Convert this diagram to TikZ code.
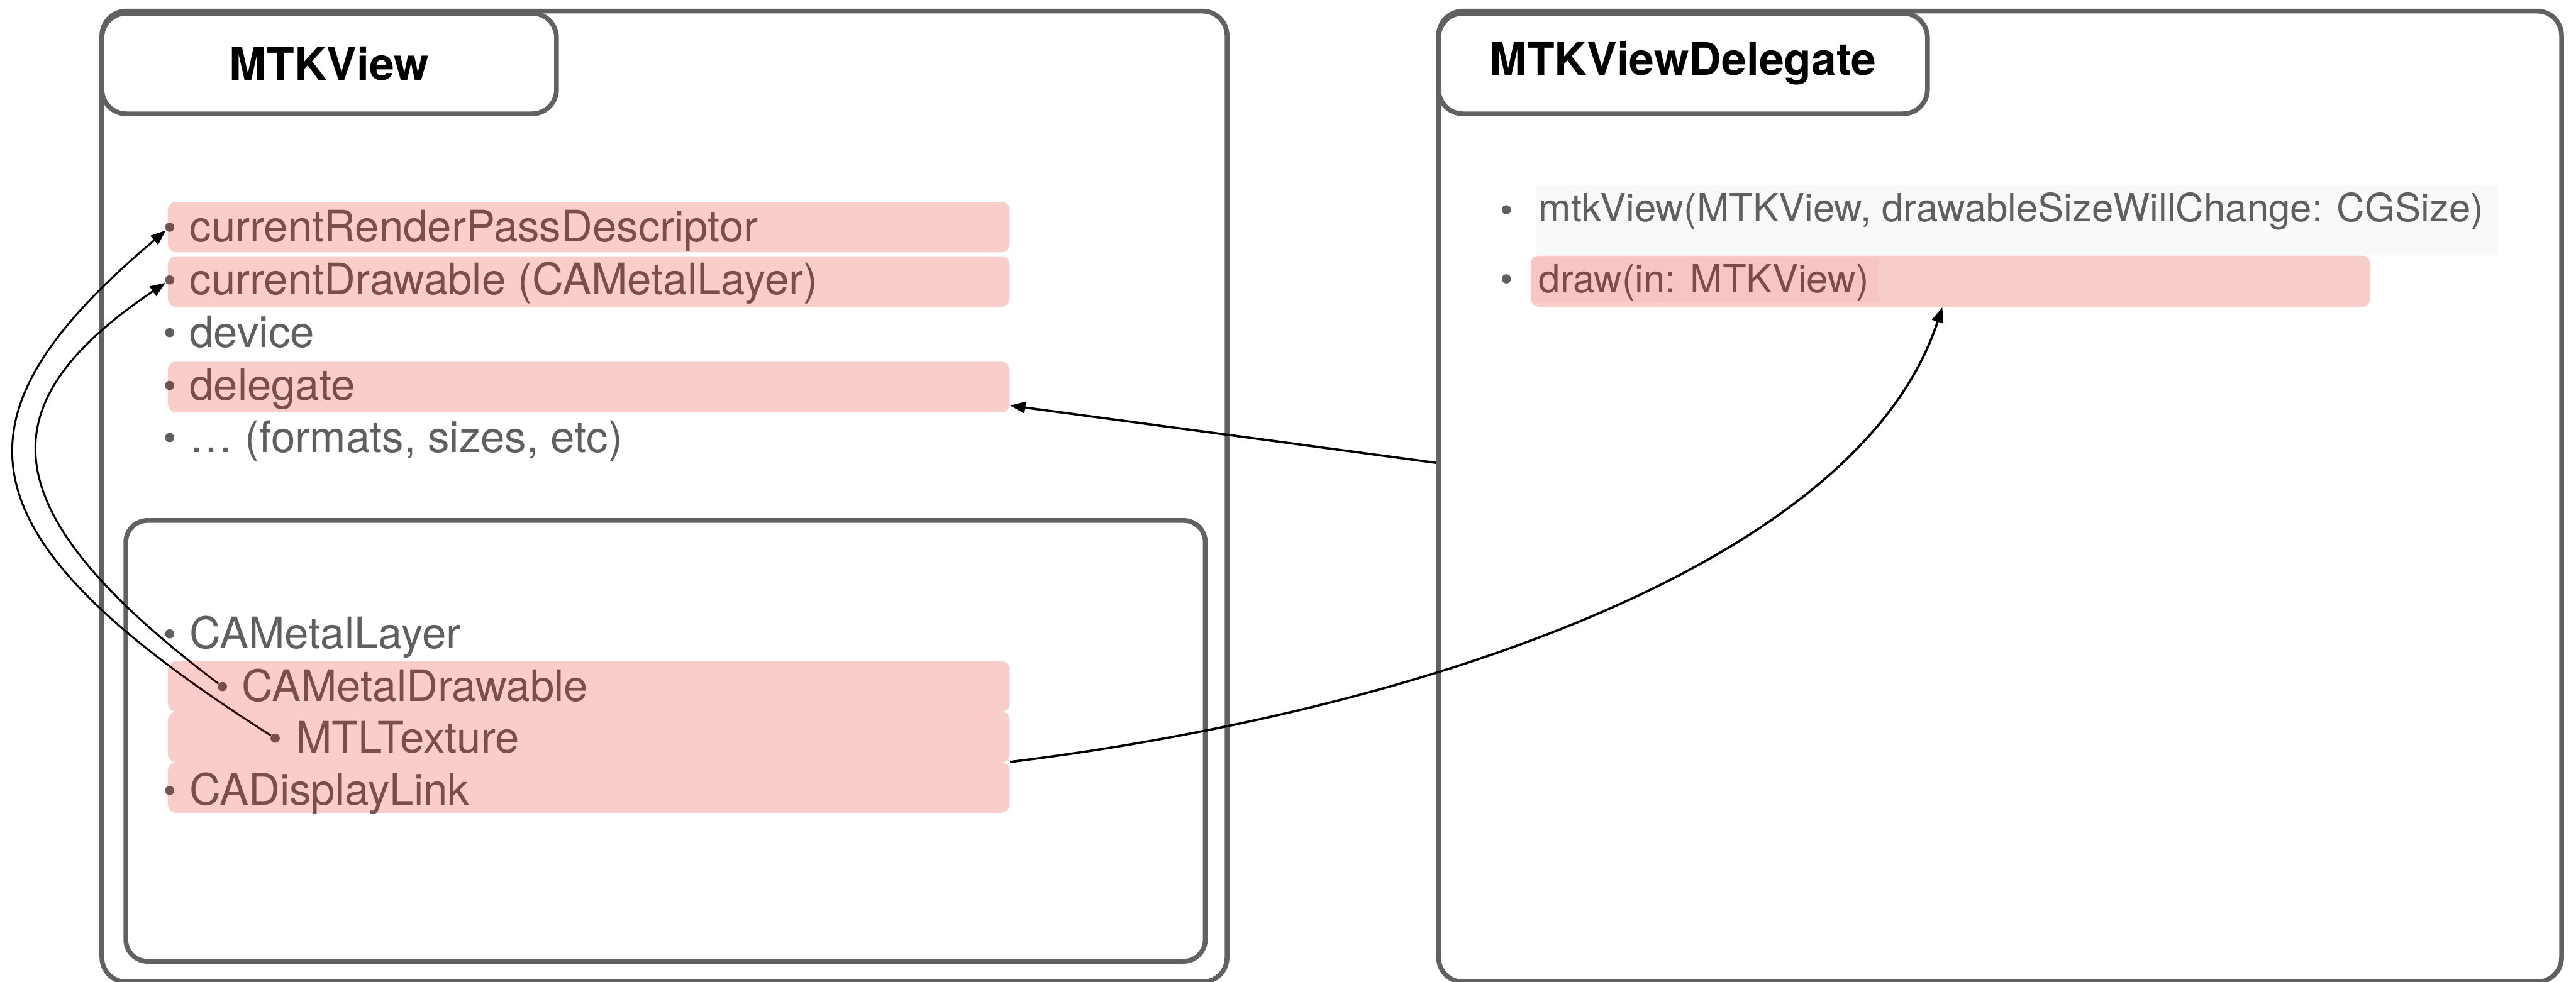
\documentclass[tikz,border=0pt]{standalone}
\usepackage{fontspec}
\setmainfont{TeX Gyre Heros}
\usepackage{xcolor}
\definecolor{boxGray}{HTML}{616161}
\definecolor{txtGray}{HTML}{5F5F5F}
\definecolor{hlRed}{RGB}{227,20,5}
\definecolor{bgGray}{HTML}{F9F9F9}
\usepackage{tikz}
\usetikzlibrary{arrows.meta}
\pgfdeclarelayer{front}
\pgfsetlayers{main,front}

\begin{document}
\begin{tikzpicture}[>={Triangle[length=8pt,width=6pt]},
  panel/.style={draw=boxGray, line width=2.5pt, rounded corners=0.45cm, inner sep=0, anchor=north west},
  title/.style={panel, fill=white, font=\fontsize{23.5}{28}\selectfont\bfseries},
  item/.style={anchor=base west, inner sep=0, text=txtGray, font=\fontsize{22.7}{27}\selectfont},
  ditem/.style={item, font=\fontsize{20.3}{24}\selectfont},
  dot/.style={circle, fill=txtGray, inner sep=0, minimum size=0.17cm},
  hl/.style={fill=hlRed, fill opacity=0.21, rounded corners=0.15cm, inner sep=0, minimum width=15.48cm, minimum height=0.93cm, anchor=south west},
  link/.style={->, line width=1.2pt}]
  \useasboundingbox (0,0) rectangle (47.37,18.06);
  % ---------- MTKView ----------
  \node[panel, minimum width=20.69cm, minimum height=17.86cm] (vpanel) at (1.83,17.90) {};
  \node[title, minimum width=8.36cm, minimum height=1.85cm] (vtitle) at (1.83,17.86) {MTKView};
  \node[item] (rpd) at (3.48,13.61) {currentRenderPassDescriptor};
  \node[dot] (rpd-b) at (3.12,13.88) {};
  \node[item] (cdr) at (3.48,12.64) {currentDrawable (CAMetalLayer)};
  \node[dot] (cdr-b) at (3.12,12.91) {};
  \node[item] (dev) at (3.48,11.67) {device};
  \node[dot] (dev-b) at (3.12,11.94) {};
  \node[item] (dlg) at (3.48,10.70) {delegate};
  \node[dot] (dlg-b) at (3.12,10.97) {};
  \node[item] (fmt) at (3.48,9.74) {… (formats, sizes, etc)};
  \node[dot] (fmt-b) at (3.12,10.01) {};
  % layer and display link
  \node[panel, minimum width=19.85cm, minimum height=8.11cm, rounded corners=0.4cm] (lbox) at (2.27,8.53) {};
  \node[item] (mlyr) at (3.48,6.13) {CAMetalLayer};
  \node[dot] (mlyr-b) at (3.12,6.40) {};
  \node[item] (mdrw) at (4.44,5.16) {CAMetalDrawable};
  \node[dot] (mdrw-b) at (4.09,5.43) {};
  \node[item] (mtex) at (5.43,4.21) {MTLTexture};
  \node[dot] (mtex-b) at (5.06,4.48) {};
  \node[item] (dlink) at (3.48,3.25) {CADisplayLink};
  \node[dot] (dlink-b) at (3.12,3.52) {};
  % ---------- MTKViewDelegate ----------
  \node[panel, minimum width=20.65cm, minimum height=17.86cm] (dpanel) at (26.41,17.90) {};
  \node[title, minimum width=8.99cm, minimum height=1.85cm] (dtitle) at (26.41,17.86) {MTKViewDelegate};
  \node[fill=bgGray, inner sep=0, minimum width=17.68cm, minimum height=1.28cm, anchor=north west] (mtkv-bg) at (28.25,14.65) {};
  \node[ditem] (mtkv) at (28.29,13.98) {mtkView(MTKView, drawableSizeWillChange: CGSize)};
  \node[dot] (mtkv-b) at (27.70,14.20) {};
  \node[ditem] (drw) at (28.29,12.68) {draw(in: MTKView)};
  \node[dot] (drw-b) at (27.70,12.93) {};
  % ---------- highlights, laid over text and links ----------
  \begin{pgfonlayer}{front}
    \node[hl] (rpd-hl) at (3.08,13.41) {};
    \node[hl] (cdr-hl) at (3.08,12.41) {};
    \node[hl] (dlg-hl) at (3.08,10.47) {};
    \node[hl] (mdrw-hl) at (3.08,4.96) {};
    \node[hl] (mtex-hl) at (3.08,4.03) {};
    \node[hl] (dlink-hl) at (3.08,3.10) {};
    \node[hl, minimum width=15.44cm, minimum height=0.94cm] (drw-hl) at (28.14,12.41) {};
    \node[fill=hlRed, fill opacity=0.04, inner sep=0, minimum width=6.41cm, minimum height=0.83cm, anchor=north west] (drw-tx) at (28.14,13.35) {};
  \end{pgfonlayer}
  % ---------- links ----------
  \draw[link] ([yshift=0.62cm]dpanel.west) -- ([yshift=0.13cm]dlg-hl.south east);
  \draw[link] (dlink-hl.north east) .. controls +(7.45,0.92) and +(-1.55,-4.76) .. ([xshift=-0.15cm]drw-hl.south);
  \draw[link, line width=1pt] (mtex-b) .. controls +(-5.9,3.75) and +(-4.15,-3.5) .. (rpd-b);
  \draw[link, line width=1pt] (mdrw-b) .. controls +(-4.39,3.31) and +(-3.32,-2.24) .. (cdr-b);
\end{tikzpicture}
\end{document}
